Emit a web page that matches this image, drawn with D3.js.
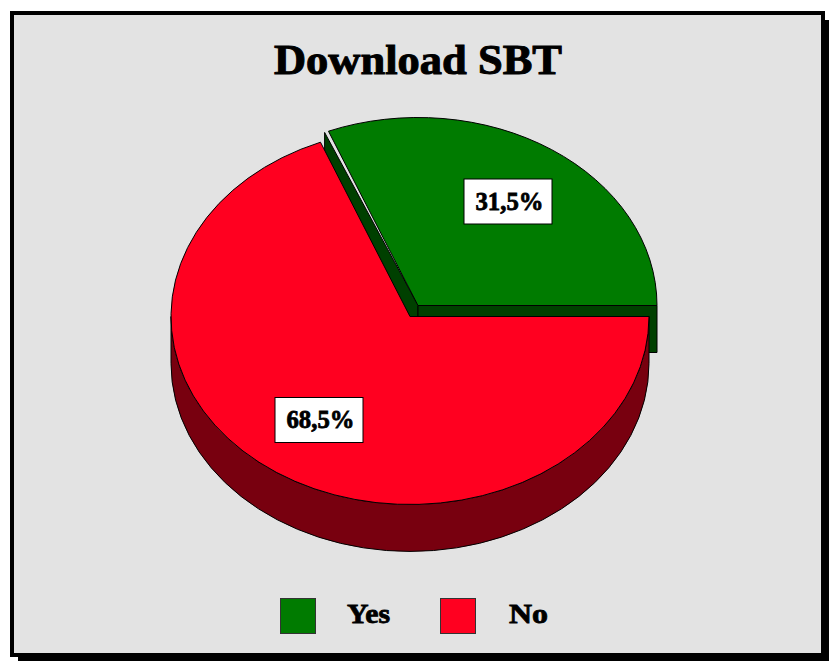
<!DOCTYPE html>
<html><head><meta charset="utf-8">
<script src="https://cdn.jsdelivr.net/npm/d3@7"></script>
<style>html,body{margin:0;padding:0;background:#fff}svg{display:block}
text{font-family:"Liberation Serif",serif;font-weight:bold;fill:#000}</style></head>
<body><svg id="c" width="829" height="661"></svg>
<script>
const chartTitle = "Download SBT";
const categories = ["Yes", "No"];
const seriesValues = [31.5, 68.5];
const valueLabels = ["31,5%", "68,5%"];
const colors = ["#007b00", "#ff0020"];
const sideColors = ["#004000", "#78000f"];

const W = 829, H = 661;
const svg = d3.select("#c");
// frame + hard shadow
svg.append("rect").attr("x",18).attr("y",20).attr("width",811).attr("height",641).attr("fill","#000");
svg.append("rect").attr("x",10).attr("y",11).attr("width",815).attr("height",646).attr("fill","#000");
svg.append("rect").attr("x",14).attr("y",15).attr("width",807).attr("height",638).attr("fill","#e3e3e3");

svg.append("text").attr("x",274).attr("y",74)
  .attr("textLength",288).attr("lengthAdjust","spacingAndGlyphs")
  .attr("font-size",42).attr("stroke","#000").attr("stroke-width",1).text(chartTitle);

// pie geometry
const rx = 239, ry = 188, depth = 47;
const cxRed = 410, cyRed = 316.5, cxGreen = 418, cyGreen = 305.5;
const pie = d3.pie().sort(null).value(d=>d)(seriesValues);
// rim correction: pie angle → drawn parametric angle (angles measured ccw from east)
const yesDeg = pie[0].endAngle*180/Math.PI;
const rim = d3.scaleLinear().domain([0,yesDeg,360]).range([0,yesDeg-1.4,360]);
const P = (cx,cy,t)=>{const a=t*Math.PI/180;return [cx+rx*Math.cos(a),cy-ry*Math.sin(a)];};
function ellArc(cx,cy,t0,t1,ccw){ // helper for rim arcs
  const p=P(cx,cy,t1), large=Math.abs(t1-t0)>180?1:0;
  return `A${rx},${ry} 0 ${large} ${ccw?0:1} ${p[0]},${p[1]}`;
}
const yesA = pie[0].startAngle*180/Math.PI, yesB = pie[0].endAngle*180/Math.PI;
const g = svg.append("g").attr("stroke","#000").attr("stroke-width",1).attr("stroke-linejoin","round");

// green walls
const wallTop = P(cxGreen,cyGreen,rim(yesB)+1);
g.append("path").attr("fill",sideColors[0])
  .attr("d",`M${cxGreen},${cyGreen}L${wallTop[0]},${wallTop[1]}V${wallTop[1]+depth}L${cxGreen},${cyGreen+depth}Z`);
const ge = P(cxGreen,cyGreen,rim(yesA));
g.append("path").attr("fill",sideColors[0])
  .attr("d",`M${cxGreen},${cyGreen}H${ge[0]}V${cyGreen+depth}H${cxGreen}Z`);
// green top
const g0=P(cxGreen,cyGreen,rim(yesA));
g.append("path").attr("fill",colors[0])
  .attr("d",`M${cxGreen},${cyGreen}L${g0[0]},${g0[1]}${ellArc(cxGreen,cyGreen,rim(yesA),rim(yesB),true)}Z`);

// red side (front half of the rim)
const rL=P(cxRed,cyRed,180), rR=P(cxRed,cyRed,360);
g.append("path").attr("fill",sideColors[1])
  .attr("d",`M${rL[0]},${rL[1]}V${rL[1]+depth}A${rx},${ry} 0 0 0 ${rR[0]},${rR[1]+depth}V${rR[1]}A${rx},${ry} 0 0 1 ${rL[0]},${rL[1]}Z`);
// red top: rim runs from the Yes edge on round to east
const n0=P(cxRed,cyRed,rim(yesB));
g.append("path").attr("fill",colors[1]).attr("stroke","none")
  .attr("d",`M${cxRed},${cyRed}L${n0[0]},${n0[1]}${ellArc(cxRed,cyRed,rim(yesB),360,true)}Z`);
g.append("path").attr("fill","none")
  .attr("d",`M${rR[0]},${rR[1]}H${cxRed}L${n0[0]},${n0[1]}${ellArc(cxRed,cyRed,rim(yesB),360,true)}`);

// value labels
const labelCenters = [[508,201.5],[319,420]];
const lg = svg.append("g");
valueLabels.forEach((t,i)=>{
  const [x,y]=labelCenters[i];
  lg.append("rect").attr("x",x-44).attr("y",y-22.5).attr("width",88).attr("height",45)
    .attr("fill","#fff").attr("stroke","#000").attr("stroke-width",1);
  lg.append("text").attr("x",x-32.5).attr("y",y+8)
    .attr("textLength",68).attr("lengthAdjust","spacingAndGlyphs")
    .attr("font-size",26).attr("stroke","#000").attr("stroke-width",0.8).text(t);
});

// legend
const legendX = d3.scalePoint().domain(categories).range([280,440]);
const textX = d3.scalePoint().domain(categories).range([347,509]);
const legendTextWidths = [43,39];
categories.forEach((c,i)=>{
  svg.append("rect").attr("x",legendX(c)+0.5).attr("y",598.5).attr("width",35).attr("height",35)
    .attr("fill",colors[i]).attr("stroke","#333").attr("stroke-width",1);
  svg.append("text").attr("x",textX(c)).attr("y",623).attr("font-size",27)
    .attr("textLength",legendTextWidths[i]).attr("lengthAdjust","spacingAndGlyphs")
    .attr("stroke","#000").attr("stroke-width",0.8).text(c);
});
</script></body></html>
